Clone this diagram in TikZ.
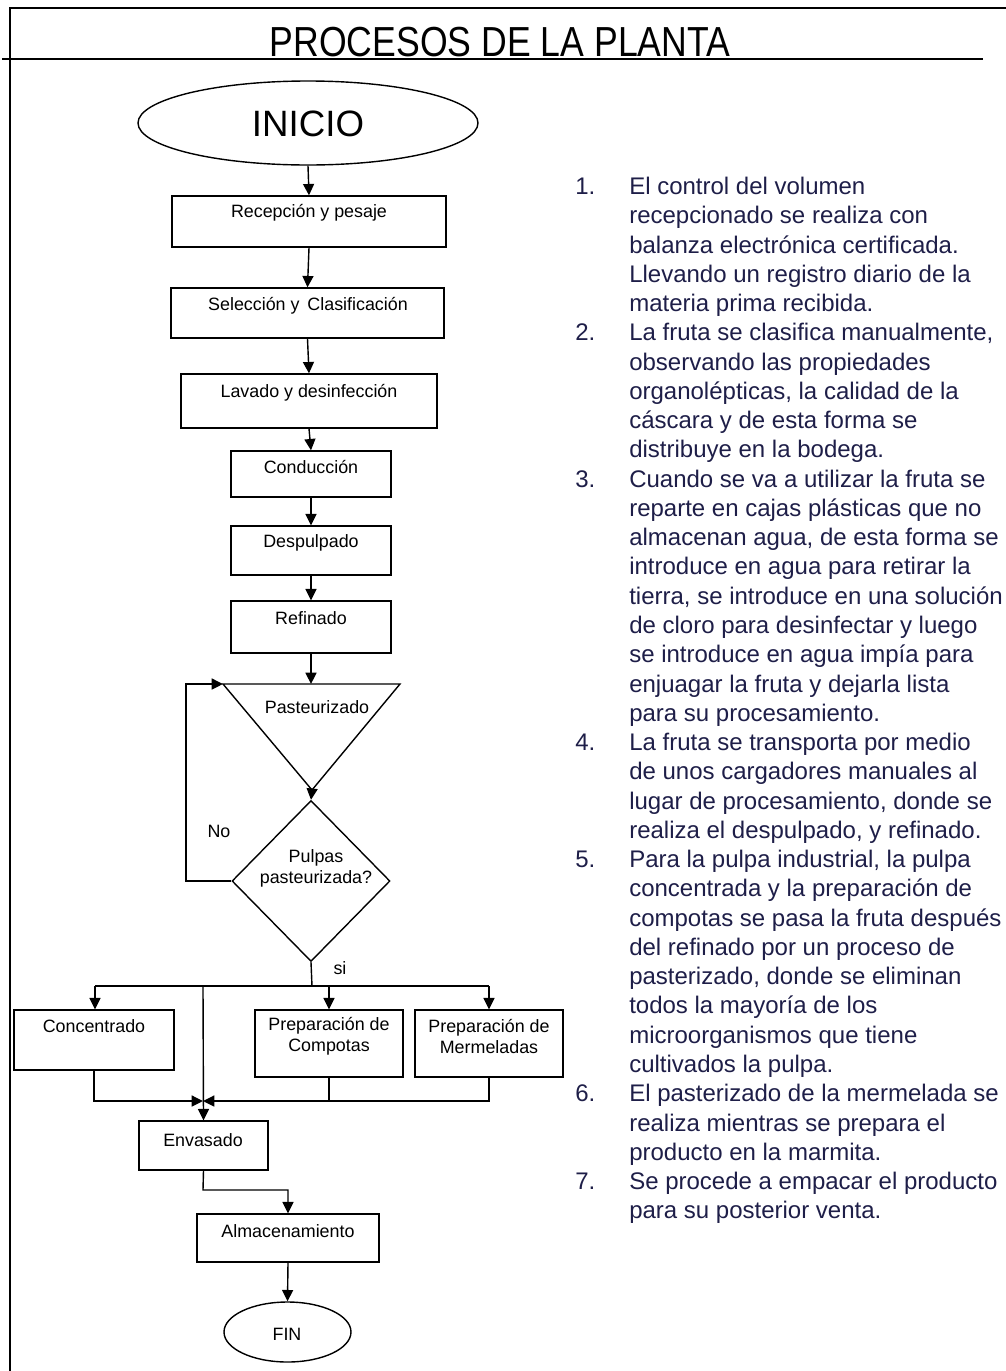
\documentclass[tikz,border=0pt]{standalone}
\usepackage{fontspec}
\setmainfont{Liberation Sans}
\usetikzlibrary{arrows.meta,shapes.geometric}
\definecolor{notecol}{RGB}{30,30,72}

% rectangle given by its corners (x1,y1) and (x2,y2)
\newcommand\flowbox[5]{%
  \node[box,minimum width={(#4-#2)*0.75pt},minimum height={(#5-#3)*0.75pt}]
    (#1) at ({(#2+#4)/2},{(#3+#5)/2}) {};}

\begin{document}
\begin{tikzpicture}[x=0.75pt,y=-0.75pt,
  box/.style={draw,line width=1.05pt,inner sep=0pt},
  lbl/.style={font=\fontsize{13.4}{15.75}\selectfont,align=center,inner sep=0pt},
  arr/.style={-{Triangle[length=8.5pt,width=8.25pt]},line width=1.05pt},
  wire/.style={line width=1.05pt},
  frame/.style={line width=2.2pt}]

\useasboundingbox (0,0) rectangle (1006,1371);
\clip (0,0) rectangle (1006,1371);

% frame and title
\draw[frame] (10,1371) -- (10,8) -- (1006,8);
\draw[frame] (2,59) -- (983,59);
\node[inner sep=0pt] (title) at (500,42)
  {\scalebox{0.89}[1.05]{\fontsize{30}{36}\selectfont PROCESOS DE LA PLANTA}};

% start
\node[draw,ellipse,line width=1.05pt,minimum width=255pt,minimum height=63pt,inner sep=0pt]
  (inicio) at (308,123) {};
\node[inner sep=0pt,font=\fontsize{27.5}{32}\selectfont] (tinicio) at (308,124) {INICIO};

% main sequence
\flowbox{b1}{172}{196}{446}{247}
\flowbox{b2}{171}{288}{444}{338}
\flowbox{b3}{181}{374}{437}{428}
\flowbox{b4}{231}{451}{391}{497}
\flowbox{b5}{231}{526}{391}{575}
\flowbox{b6}{231}{601}{391}{653}
\node[lbl] (t1) at (309,213) {Recepción y pesaje};
\node[lbl] (t2) at (308,306) {Selección y\, Clasificación};
\node[lbl] (t3) at (309,393) {Lavado y desinfección};
\node[lbl] (t4) at (311,467) {Conducción};
\node[lbl] (t5) at (311,543) {Despulpado};
\node[lbl] (t6) at (311,618) {Refinado};

\draw[arr] (inicio.south) -- (b1.north);
\draw[arr] (b1.south) -- (b2.north);
\draw[arr] (b2.south) -- (b3.north);
\draw[arr] (b3.south) -- (b4.north);
\draw[arr] (b4.south) -- (b5.north);
\draw[arr] (b5.south) -- (b6.north);

% pasteurising triangle
\coordinate (tl) at (223,684);
\coordinate (tr) at (400,684);
\coordinate (ttop) at (311,684);
\coordinate (apex) at (312,790);
\draw[wire] (tl) -- (tr) -- (apex) -- cycle;
\node[lbl] (tpast) at (317,707) {Pasteurizado};
\draw[arr] (b6.south) -- (ttop);

% decision
\node[draw,diamond,line width=1.05pt,inner sep=0pt,aspect=0.98,
  minimum width=118.5pt,minimum height=120.75pt] (dia) at (311,881) {};
\node[lbl] (tdia) at (316,868) {Pulpas\\pasteurizada?};
\draw[arr] (apex) -- (dia.north);
\coordinate (loop) at (186,881);
\draw[arr] (dia.west) -- (loop) |- (tl);
\node[lbl] (tno) at (219,831) {No};

% branches
\coordinate (j) at (312,986);
\coordinate (jl) at (95,986);
\coordinate (jr) at (489,986);
\coordinate (jm) at (203,986);
\node[lbl] (tsi) at (340,968) {si};
\draw[wire] (dia.south) -- (j);
\draw[wire] (jl) -- (jr);

\flowbox{conc}{14}{1010}{174}{1070}
\flowbox{comp}{255}{1010}{403}{1077}
\flowbox{merm}{415}{1010}{563}{1077}
\node[lbl] (tconc) at (94,1026) {Concentrado};
\node[lbl] (tcomp) at (329,1036) {Preparación de\\Compotas};
\node[lbl] (tmerm) at (489,1036) {Preparación de\\Mermeladas};

\draw[arr] (jl) -- (jl |- conc.north);
\draw[arr] (329,986) -- (comp.north);
\draw[arr] (jr) -- (merm.north);

% packing and storage
\flowbox{env}{139}{1121}{268}{1170}
\flowbox{alm}{197}{1214}{379}{1262}
\node[lbl] (tenv) at (203,1140) {Envasado};
\node[lbl] (talm) at (288,1231) {Almacenamiento};

\coordinate (merge) at (203,1101);
\draw[arr] (jm) -- (env.north);
\draw[arr] (conc.south) |- (merge);
\draw[arr] (merm.south) |- (merge);
\draw[wire] (comp.south) -- (comp.south |- merge);

\coordinate (bend) at (203,1190);
\draw[arr] (env.south) -- (bend) -| (alm.north);

% end
\node[draw,ellipse,line width=1.05pt,minimum width=95.25pt,minimum height=45pt,inner sep=0pt]
  (fin) at (287.5,1332) {};
\node[lbl] (tfin) at (287,1334) {FIN};
\draw[arr] (alm.south) -- (fin.north);

% notes
\node[anchor=base west,inner sep=0pt,text=notecol] (notes) at (575,194.5) {%
  \fontsize{18}{21.95}\selectfont\setlength\tabcolsep{0pt}%
  \begin{tabular}[t]{@{}p{40.5pt}@{}l@{}}
  1. & El control del volumen\\
     & recepcionado se realiza con\\
     & balanza electrónica certificada.\\
     & Llevando un registro diario de la\\
     & materia prima recibida.\\
  2. & La fruta se clasifica manualmente,\\
     & observando las propiedades\\
     & organolépticas, la calidad de la\\
     & cáscara y de esta forma se\\
     & distribuye en la bodega.\\
  3. & Cuando se va a utilizar la fruta se\\
     & reparte en cajas plásticas que no\\
     & almacenan agua, de esta forma se\\
     & introduce en agua para retirar la\\
     & tierra, se introduce en una solución\\
     & de cloro para desinfectar y luego\\
     & se introduce en agua impía para\\
     & enjuagar la fruta y dejarla lista\\
     & para su procesamiento.\\
  4. & La fruta se transporta por medio\\
     & de unos cargadores manuales al\\
     & lugar de procesamiento, donde se\\
     & realiza el despulpado, y refinado.\\
  5. & Para la pulpa industrial, la pulpa\\
     & concentrada y la preparación de\\
     & compotas se pasa la fruta después\\
     & del refinado por un proceso de\\
     & pasterizado, donde se eliminan\\
     & todos la mayoría de los\\
     & microorganismos que tiene\\
     & cultivados la pulpa.\\
  6. & El pasterizado de la mermelada se\\
     & realiza mientras se prepara el\\
     & producto en la marmita.\\
  7. & Se procede a empacar el producto\\
     & para su posterior venta.
  \end{tabular}};
\end{tikzpicture}
\end{document}
